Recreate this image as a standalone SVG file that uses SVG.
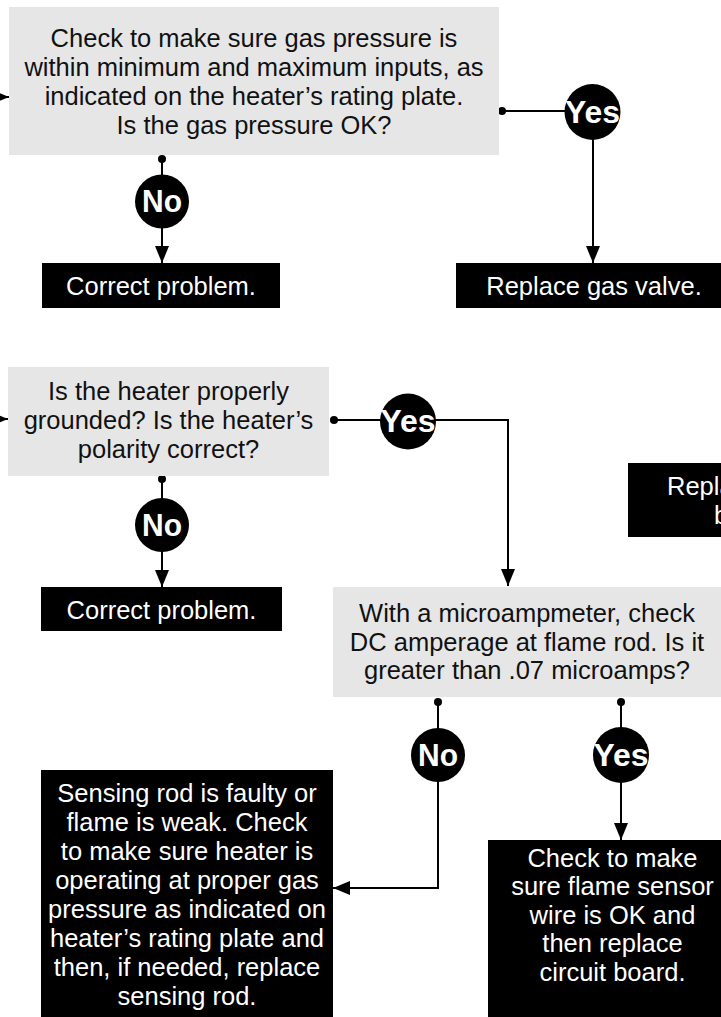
<svg xmlns="http://www.w3.org/2000/svg" width="721" height="1017" viewBox="0 0 721 1017">
<defs>
<style>
.q{fill:#e6e6e7}
.b{fill:#000}
.t{font-family:"Liberation Sans",Arial,Helvetica,sans-serif;font-size:25.5px;text-anchor:middle;fill:#111}
.w{font-family:"Liberation Sans",Arial,Helvetica,sans-serif;font-size:25.5px;text-anchor:middle;fill:#fff}
.l{font-family:"Liberation Sans",Arial,Helvetica,sans-serif;font-size:32px;font-weight:bold;text-anchor:middle;fill:#fff}
.c{fill:none;stroke:#000;stroke-width:2}
.d{fill:#000}
</style>
<marker id="ah" markerUnits="userSpaceOnUse" markerWidth="17" markerHeight="14" refX="17" refY="7" orient="auto">
<path d="M0,0 L17,7 L0,14 Z" fill="#000"/>
</marker>
</defs>
<rect width="721" height="1017" fill="#fff"/>

<g id="connectors">
<line class="c" x1="0" y1="97" x2="9" y2="97" marker-end="url(#ah)"/>
<circle class="d" cx="162" cy="159" r="4"/>
<line class="c" x1="162" y1="159" x2="162" y2="263" marker-end="url(#ah)"/>
<circle class="d" cx="502" cy="111" r="4"/>
<polyline class="c" points="502,111 593,111 593,263" marker-end="url(#ah)"/>
<line class="c" x1="0" y1="419" x2="8" y2="419" marker-end="url(#ah)"/>
<circle class="d" cx="162" cy="479" r="4"/>
<line class="c" x1="162" y1="479" x2="162" y2="587" marker-end="url(#ah)"/>
<circle class="d" cx="334" cy="420" r="4"/>
<polyline class="c" points="334,420 508,420 508,586" marker-end="url(#ah)"/>
<circle class="d" cx="438" cy="702" r="4"/>
<polyline class="c" points="438,702 438,888 333,888" marker-end="url(#ah)"/>
<circle class="d" cx="621" cy="702" r="4"/>
<line class="c" x1="621" y1="702" x2="621" y2="840" marker-end="url(#ah)"/>
</g>

<g id="no1"><circle class="b" cx="162" cy="201.5" r="27"/><text class="l" x="162" y="212" textLength="40" lengthAdjust="spacingAndGlyphs">No</text></g>
<g id="yes1"><circle class="b" cx="592.5" cy="112" r="28"/><text class="l" x="592.5" y="122.5" textLength="55" lengthAdjust="spacingAndGlyphs">Yes</text></g>
<g id="no2"><circle class="b" cx="162" cy="525" r="27"/><text class="l" x="162" y="535.5" textLength="40" lengthAdjust="spacingAndGlyphs">No</text></g>
<g id="yes2"><circle class="b" cx="408" cy="421.5" r="28"/><text class="l" x="408" y="432" textLength="55" lengthAdjust="spacingAndGlyphs">Yes</text></g>
<g id="no3"><circle class="b" cx="438" cy="755" r="27"/><text class="l" x="438" y="765.5" textLength="40" lengthAdjust="spacingAndGlyphs">No</text></g>
<g id="yes3"><circle class="b" cx="621" cy="755" r="28"/><text class="l" x="621" y="765.5" textLength="55" lengthAdjust="spacingAndGlyphs">Yes</text></g>

<g id="box1">
<rect class="q" x="9" y="7" width="490" height="148"/>
<text class="t" x="254" y="47">Check to make sure gas pressure is</text>
<text class="t" x="254" y="76">within minimum and maximum inputs, as</text>
<text class="t" x="254" y="105">indicated on the heater’s rating plate.</text>
<text class="t" x="254" y="134">Is the gas pressure OK?</text>
</g>
<g id="correct1">
<rect class="b" x="42" y="263" width="238" height="45"/>
<text class="w" x="161" y="295">Correct problem.</text>
</g>
<g id="replaceValve">
<rect class="b" x="456" y="263" width="265" height="45"/>
<text class="w" x="594" y="295">Replace gas valve.</text>
</g>
<g id="box2">
<rect class="q" x="8" y="367" width="321" height="109"/>
<text class="t" x="168.5" y="400">Is the heater properly</text>
<text class="t" x="168.5" y="429">grounded? Is the heater’s</text>
<text class="t" x="168.5" y="458">polarity correct?</text>
</g>
<g id="correct2">
<rect class="b" x="41" y="587" width="241" height="44"/>
<text class="w" x="161.5" y="619">Correct problem.</text>
</g>
<g id="replaceBoard">
<rect class="b" x="628" y="463" width="93" height="74"/>
<text class="w" x="667" y="495" style="text-anchor:start">Repla</text>
<text class="w" x="714" y="524" style="text-anchor:start">b</text>
</g>
<g id="box3">
<rect class="q" x="333" y="587" width="388" height="110"/>
<text class="t" x="527" y="622">With a microampmeter, check</text>
<text class="t" x="527" y="651">DC amperage at flame rod. Is it</text>
<text class="t" x="527" y="679">greater than .07 microamps?</text>
</g>
<g id="box4">
<rect class="b" x="41" y="770" width="292" height="247"/>
<text class="w" x="187" y="802">Sensing rod is faulty or</text>
<text class="w" x="187" y="831">flame is weak. Check</text>
<text class="w" x="187" y="860">to make sure heater is</text>
<text class="w" x="187" y="889">operating at proper gas</text>
<text class="w" x="187" y="918">pressure as indicated on</text>
<text class="w" x="187" y="947">heater’s rating plate and</text>
<text class="w" x="187" y="976">then, if needed, replace</text>
<text class="w" x="187" y="1005">sensing rod.</text>
</g>
<g id="box5">
<rect class="b" x="488" y="840" width="233" height="177"/>
<text class="w" x="612.5" y="867">Check to make</text>
<text class="w" x="612.5" y="895">sure flame sensor</text>
<text class="w" x="612.5" y="924">wire is OK and</text>
<text class="w" x="612.5" y="952">then replace</text>
<text class="w" x="612.5" y="981">circuit board.</text>
</g>
</svg>
